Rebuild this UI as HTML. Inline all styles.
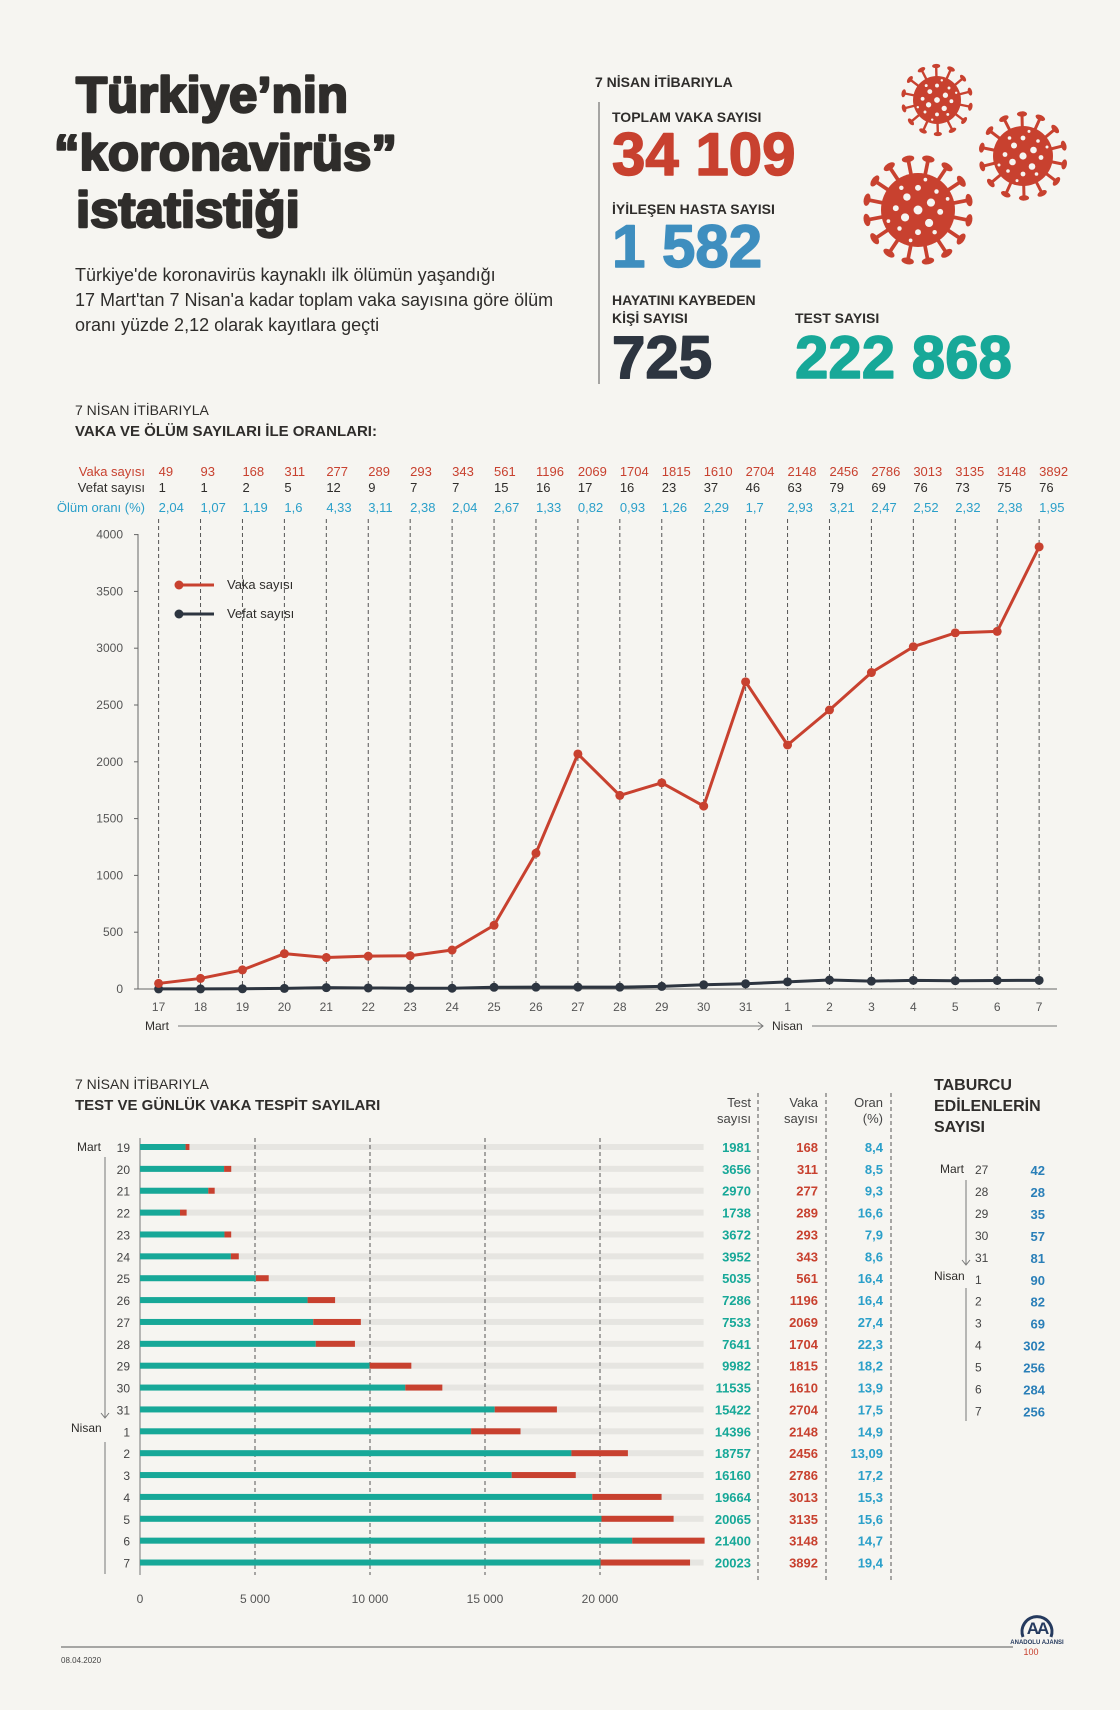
<!DOCTYPE html>
<html><head><meta charset="utf-8">
<style>
html,body{margin:0;padding:0;background:#f6f5f1;}
svg{display:block;font-family:"Liberation Sans",sans-serif;}
.h{font-weight:bold;fill:#2f2d2b;stroke:#2f2d2b;stroke-width:2.4;stroke-linejoin:round;}
</style></head>
<body>
<svg id="s" width="1120" height="1710" viewBox="0 0 1120 1710" xmlns="http://www.w3.org/2000/svg">
<rect width="1120" height="1710" fill="#f6f5f1"/>
<g class="h" font-size="50">
<text x="76" y="112" transform="translate(76 0) scale(1.02 1) translate(-76 0)">Türkiye’nin</text>
<text x="54" y="170" transform="translate(54 0) scale(1.02 1) translate(-54 0)">“koronavirüs”</text>
<text x="76" y="227" transform="translate(76 0) scale(1.02 1) translate(-76 0)">istatistiği</text>
</g>
<g font-size="18" fill="#2f2d2b">
<text x="75" y="281">Türkiye'de koronavirüs kaynaklı ilk ölümün yaşandığı</text>
<text x="75" y="306">17 Mart'tan 7 Nisan'a kadar toplam vaka sayısına göre ölüm</text>
<text x="75" y="331">oranı yüzde 2,12 olarak kayıtlara geçti</text>
</g>
<text x="595" y="87" font-size="14" font-weight="bold" fill="#2f2d2b">7 NİSAN İTİBARIYLA</text>
<line x1="599" y1="102" x2="599" y2="384" stroke="#555" stroke-width="1"/>
<g font-size="14" font-weight="bold" fill="#2f2d2b">
<text x="612" y="122">TOPLAM VAKA SAYISI</text>
<text x="612" y="214">İYİLEŞEN HASTA SAYISI</text>
<text x="612" y="305">HAYATINI KAYBEDEN</text>
<text x="612" y="323">KİŞİ SAYISI</text>
<text x="795" y="323">TEST SAYISI</text>
</g>
<g font-size="60" font-weight="bold" stroke-width="1.5" stroke-linejoin="round">
<text x="612" y="175" fill="#c8412f" stroke="#c8412f">34 109</text>
<text x="612" y="267" fill="#3e8ebf" stroke="#3e8ebf">1 582</text>
<text x="612" y="378" fill="#2d3540" stroke="#2d3540">725</text>
<text x="795" y="378" fill="#17a898" stroke="#17a898">222 868</text>
</g>
<g id="vir"></g>

<text x="75" y="415" font-size="14" fill="#2f2d2b">7 NİSAN İTİBARIYLA</text>
<text x="75" y="436" font-size="15" font-weight="bold" fill="#2f2d2b">VAKA VE ÖLÜM SAYILARI İLE ORANLARI:</text>
<g font-size="13" text-anchor="end">
<text x="145" y="476" fill="#c8412f">Vaka sayısı</text>
<text x="145" y="492" fill="#2f2d2b">Vefat sayısı</text>
<text x="145" y="512" fill="#2a9fc9">Ölüm oranı (%)</text>
</g>
<g id="lc"></g>

<text x="75" y="1089" font-size="14" fill="#2f2d2b">7 NİSAN İTİBARIYLA</text>
<text x="75" y="1110" font-size="15" font-weight="bold" fill="#2f2d2b">TEST VE GÜNLÜK VAKA TESPİT SAYILARI</text>
<g font-size="13" fill="#444" text-anchor="end">
<text x="751" y="1107">Test</text><text x="751" y="1123">sayısı</text>
<text x="818" y="1107">Vaka</text><text x="818" y="1123">sayısı</text>
<text x="883" y="1107">Oran</text><text x="883" y="1123">(%)</text>
</g>
<g stroke="#555" stroke-dasharray="4 3" stroke-width="1">
<line x1="758" y1="1093" x2="758" y2="1583"/>
<line x1="826" y1="1093" x2="826" y2="1583"/>
<line x1="891" y1="1093" x2="891" y2="1583"/>
</g>
<g font-size="16" font-weight="bold" fill="#2f2d2b">
<text x="934" y="1090">TABURCU</text>
<text x="934" y="1111">EDİLENLERİN</text>
<text x="934" y="1132">SAYISI</text>
</g>
<g id="bc"></g>
<g id="tb"></g>

<line x1="61" y1="1647" x2="1013" y2="1647" stroke="#777" stroke-width="1.2"/>
<text x="61" y="1663" font-size="8" fill="#444">08.04.2020</text>
<g transform="translate(1037 1627)">
<path d="M-14 10 A15 15 0 1 1 14 10" fill="none" stroke="#253a5e" stroke-width="3"/>
<text x="0" y="7" text-anchor="middle" font-size="17" font-weight="bold" fill="#253a5e" style="letter-spacing:-2px">AA</text>
<text x="0" y="17" text-anchor="middle" font-size="6" font-weight="bold" fill="#253a5e">ANADOLU AJANSI</text>
<text x="-6" y="28" text-anchor="middle" font-size="9" fill="#c8412f">100</text>
</g>
</svg>
<script>
var NS="http://www.w3.org/2000/svg";
function el(p,t,a,txt){var e=document.createElementNS(NS,t);for(var k in a)e.setAttribute(k,a[k]);if(txt!=null)e.textContent=txt;p.appendChild(e);return e;}
var vg=document.getElementById('vir'),C="#c8412f";
function virus(cx,cy,r,L,n){
 for(var i=0;i<n;i++){var a=i*2*Math.PI/n+0.2;var x2=cx+Math.cos(a)*L,y2=cy+Math.sin(a)*L;
  el(vg,'line',{x1:cx,y1:cy,x2:x2,y2:y2,stroke:C,'stroke-width':r*0.1});
  el(vg,'ellipse',{cx:x2,cy:y2,rx:r*0.17,ry:r*0.09,fill:C,transform:'rotate('+(a*180/Math.PI+90)+' '+x2+' '+y2+')'});}
 el(vg,'circle',{cx:cx,cy:cy,r:r,fill:C});
 var d=[[0,0,.12],[.35,-.2,.11],[-.35,.2,.11],[.3,.35,.11],[-.3,-.35,.1],[0,-.6,.08],[0,.6,.08],[.6,.05,.08],[-.6,-.05,.08],[.5,-.5,.06],[-.5,.5,.06],[.45,.6,.06],[-.45,-.6,.06],[.8,-.3,.05],[-.8,.3,.05],[-.2,.82,.05],[.2,-.82,.05]];
 d.forEach(function(p){el(vg,'circle',{cx:cx+p[0]*r,cy:cy+p[1]*r,r:p[2]*r,fill:"#f6f5f1"});});
}
virus(937,100,24,34,14);virus(1023,156,30,42,14);virus(918,210,37,52,16);
var lc=document.getElementById('lc');
var vaka=[49,93,168,311,277,289,293,343,561,1196,2069,1704,1815,1610,2704,2148,2456,2786,3013,3135,3148,3892];
var vef=[1,1,2,5,12,9,7,7,15,16,17,16,23,37,46,63,79,69,76,73,75,76];
var oran=["2,04","1,07","1,19","1,6","4,33","3,11","2,38","2,04","2,67","1,33","0,82","0,93","1,26","2,29","1,7","2,93","3,21","2,47","2,52","2,32","2,38","1,95"];
var days=[17,18,19,20,21,22,23,24,25,26,27,28,29,30,31,1,2,3,4,5,6,7];
function X(i){return 158.6+41.93*i;}function Y(v){return 989-v*0.1136;}
for(var i=0;i<22;i++){var x=X(i);
 el(lc,'line',{x1:x,y1:519,x2:x,y2:989,stroke:"#555",'stroke-dasharray':"4 3",'stroke-width':1});
 el(lc,'text',{x:x,y:476,'font-size':13,fill:C},vaka[i]);
 el(lc,'text',{x:x,y:492,'font-size':13,fill:"#2f2d2b"},vef[i]);
 el(lc,'text',{x:x,y:512,'font-size':13,fill:"#2a9fc9"},oran[i]);
 el(lc,'text',{x:x,y:1011,'font-size':12,fill:"#555",'text-anchor':'middle'},days[i]);
}
el(lc,'line',{x1:138,y1:534,x2:138,y2:989,stroke:"#666"});
el(lc,'line',{x1:138,y1:989,x2:1057,y2:989,stroke:"#666"});
for(var t=0;t<=4000;t+=500){var y=Y(t);el(lc,'line',{x1:134,y1:y,x2:138,y2:y,stroke:"#666"});el(lc,'text',{x:123,y:y+4,'font-size':12,fill:"#555",'text-anchor':'end'},t);}
el(lc,'text',{x:145,y:1030,'font-size':12,fill:"#2f2d2b"},"Mart");
el(lc,'line',{x1:178,y1:1026,x2:763,y2:1026,stroke:"#777"});
el(lc,'path',{d:"M758 1022 L763 1026 L758 1030",fill:"none",stroke:"#777"});
el(lc,'text',{x:772,y:1030,'font-size':12,fill:"#2f2d2b"},"Nisan");
el(lc,'line',{x1:812,y1:1026,x2:1057,y2:1026,stroke:"#777"});
function series(arr,col){var p=arr.map(function(v,i){return X(i)+","+Y(v);}).join(" ");
 el(lc,'polyline',{points:p,fill:"none",stroke:col,'stroke-width':3,'stroke-linejoin':'round'});
 arr.forEach(function(v,i){el(lc,'circle',{cx:X(i),cy:Y(v),r:4.5,fill:col});});}
series(vef,"#2d3540");series(vaka,C);
el(lc,'line',{x1:179,y1:585,x2:214,y2:585,stroke:C,'stroke-width':3});el(lc,'circle',{cx:179,cy:585,r:4.5,fill:C});
el(lc,'text',{x:227,y:589,'font-size':13,fill:"#2f2d2b"},"Vaka sayısı");
el(lc,'line',{x1:179,y1:614,x2:214,y2:614,stroke:"#2d3540",'stroke-width':3});el(lc,'circle',{cx:179,cy:614,r:4.5,fill:"#2d3540"});
el(lc,'text',{x:227,y:618,'font-size':13,fill:"#2f2d2b"},"Vefat sayısı");
var bc=document.getElementById('bc');
var test=[1981,3656,2970,1738,3672,3952,5035,7286,7533,7641,9982,11535,15422,14396,18757,16160,19664,20065,21400,20023];
var bv=[168,311,277,289,293,343,561,1196,2069,1704,1815,1610,2704,2148,2456,2786,3013,3135,3148,3892];
var bo=["8,4","8,5","9,3","16,6","7,9","8,6","16,4","16,4","27,4","22,3","18,2","13,9","17,5","14,9","13,09","17,2","15,3","15,6","14,7","19,4"];
var bd=[19,20,21,22,23,24,25,26,27,28,29,30,31,1,2,3,4,5,6,7];
var s=0.023;
for(var i=0;i<20;i++){var y=1147+21.87*i;
 el(bc,'rect',{x:140,y:y-3,width:563.6,height:6,fill:"#e6e5e1"});
}
[5000,10000,15000,20000].forEach(function(v){var x=140+v*s;el(bc,'line',{x1:x,y1:1138,x2:x,y2:1575,stroke:"#555",'stroke-dasharray':"4 3"});});
el(bc,'line',{x1:140,y1:1138,x2:140,y2:1575,stroke:"#777"});
for(var i=0;i<20;i++){var y=1147+21.87*i;
 el(bc,'rect',{x:140,y:y-3,width:test[i]*s,height:6,fill:"#17a898"});
 el(bc,'rect',{x:140+test[i]*s,y:y-3,width:bv[i]*s,height:6,fill:C});
 el(bc,'text',{x:130,y:y+5,'font-size':12,fill:"#444",'text-anchor':'end'},bd[i]);
 el(bc,'text',{x:751,y:y+5,'font-size':13,'font-weight':'bold',fill:"#17a898",'text-anchor':'end'},test[i]);
 el(bc,'text',{x:818,y:y+5,'font-size':13,'font-weight':'bold',fill:C,'text-anchor':'end'},bv[i]);
 el(bc,'text',{x:883,y:y+5,'font-size':13,'font-weight':'bold',fill:"#2a9fc9",'text-anchor':'end'},bo[i]);
}
[0,5000,10000,15000,20000].forEach(function(v){el(bc,'text',{x:140+v*s,y:1603,'font-size':12,fill:"#555",'text-anchor':'middle'},v==0?"0":(v/1000)+" 000");});
el(bc,'text',{x:77,y:1151,'font-size':12,fill:"#2f2d2b"},"Mart");
el(bc,'line',{x1:105,y1:1157,x2:105,y2:1417,stroke:"#777"});
el(bc,'path',{d:"M101 1413 L105 1418 L109 1413",fill:"none",stroke:"#777"});
el(bc,'text',{x:71,y:1432,'font-size':12,fill:"#2f2d2b"},"Nisan");
el(bc,'line',{x1:105,y1:1442,x2:105,y2:1574,stroke:"#777"});
var tb=document.getElementById('tb');
var td=[27,28,29,30,31,1,2,3,4,5,6,7],tv=[42,28,35,57,81,90,82,69,302,256,284,256];
for(var i=0;i<12;i++){var y=1170+21.95*i;
 el(tb,'text',{x:975,y:y+4,'font-size':12,fill:"#444"},td[i]);
 el(tb,'text',{x:1045,y:y+5,'font-size':13,'font-weight':'bold',fill:"#2a7fb8",'text-anchor':'end'},tv[i]);}
el(tb,'text',{x:940,y:1173,'font-size':12,fill:"#2f2d2b"},"Mart");
el(tb,'line',{x1:966,y1:1180,x2:966,y2:1265,stroke:"#777"});
el(tb,'path',{d:"M962 1260 L966 1265 L970 1260",fill:"none",stroke:"#777"});
el(tb,'text',{x:934,y:1280,'font-size':12,fill:"#2f2d2b"},"Nisan");
el(tb,'line',{x1:966,y1:1288,x2:966,y2:1421,stroke:"#777"});
</script>
</body></html>
